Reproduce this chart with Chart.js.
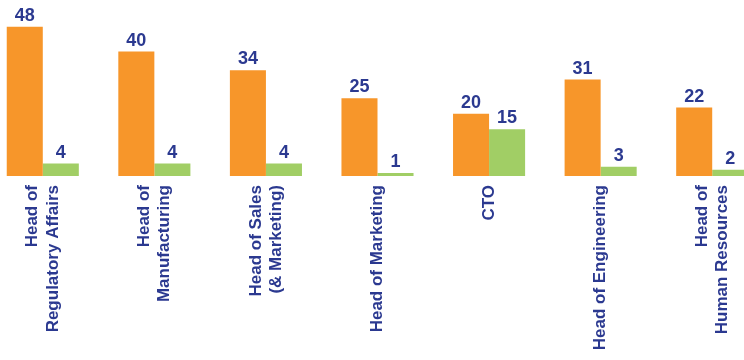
<!DOCTYPE html>
<html>
<head>
<meta charset="utf-8">
<script src="https://cdn.jsdelivr.net/npm/chart.js@4/dist/chart.umd.min.js"></script>
<style>
  html, body { margin: 0; padding: 0; background: #fff; overflow: hidden; }
  body { width: 744px; height: 360px; position: relative; }
  #wrap { position: absolute; left: -13px; top: 0; width: 781px; height: 360px; }
</style>
</head>
<body>
<div id="wrap"><canvas id="c"></canvas></div>
<script>
// Roles, each label split into the lines it is printed on
const categories = [
  ['Head of', 'Regulatory Affairs'],
  ['Head of', 'Manufacturing'],
  ['Head of Sales', '(& Marketing)'],
  ['Head of Marketing'],
  ['CTO'],
  ['Head of Engineering'],
  ['Head of', 'Human Resources']
];
const orangeValues = [48, 40, 34, 25, 20, 31, 22];
const greenValues = [4, 4, 4, 1, 15, 3, 2];

const NAVY = '#2b3990';
const LABEL_FONT = { family: '"Liberation Sans", Arial, sans-serif', size: 17, weight: 'bold', lineHeight: 1.18 };

// Category scale whose rotated multi-line labels are centred on the tick
class CenteredCategoryScale extends Chart.CategoryScale {
  _computeLabelItems(chartArea) {
    const items = super._computeLabelItems(chartArea);
    const lh = Chart.helpers.toFont(this.options.ticks.font).lineHeight;
    items.forEach(item => {
      const n = Array.isArray(item.label) ? item.label.length : 1;
      if (n > 1) item.options.translation[0] -= (n - 1) * lh / 2;
    });
    return items;
  }
}
CenteredCategoryScale.id = 'centeredCategory';
CenteredCategoryScale.defaults = Chart.CategoryScale.defaults;
Chart.register(CenteredCategoryScale);

// Value printed above each bar
const valueLabels = {
  id: 'valueLabels',
  afterDatasetsDraw(chart) {
    const ctx = chart.ctx;
    ctx.save();
    ctx.fillStyle = NAVY;
    ctx.font = 'bold 18px "Liberation Sans", Arial, sans-serif';
    ctx.textAlign = 'center';
    ctx.textBaseline = 'alphabetic';
    chart.data.datasets.forEach((ds, di) => {
      chart.getDatasetMeta(di).data.forEach((bar, i) => {
        ctx.fillText(String(ds.data[i]), bar.x, bar.y - 6);
      });
    });
    ctx.restore();
  }
};

new Chart(document.getElementById('c'), {
  type: 'bar',
  data: {
    labels: categories,
    datasets: [
      { data: orangeValues, backgroundColor: '#f7962a', borderWidth: 0 },
      { data: greenValues, backgroundColor: '#a1ce65', borderWidth: 0 }
    ]
  },
  options: {
    responsive: true,
    maintainAspectRatio: false,
    animation: false,
    layout: { padding: 0 },
    plugins: { legend: { display: false }, tooltip: { enabled: false } },
    datasets: { bar: { categoryPercentage: 0.646, barPercentage: 1.0 } },
    scales: {
      x: {
        type: 'centeredCategory',
        offset: true,
        border: { display: false },
        grid: { display: false, drawTicks: false },
        ticks: {
          minRotation: 90,
          maxRotation: 90,
          autoSkip: false,
          padding: 9,
          color: NAVY,
          font: LABEL_FONT
        },
        afterFit(scale) { scale.height = 184; }
      },
      y: {
        display: false,
        min: 0,
        max: 56.6
      }
    }
  },
  plugins: [valueLabels]
});
</script>
</body>
</html>
